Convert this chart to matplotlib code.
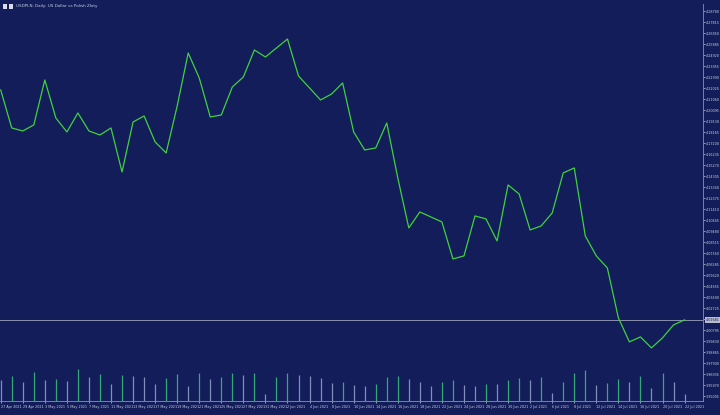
import numpy as np
import pandas as pd
import matplotlib
matplotlib.use("Agg")
import matplotlib.pyplot as plt
import matplotlib.transforms as mtransforms
from matplotlib.patches import Rectangle

# USDPLN daily closes
closes = [4.21852, 4.18519, 4.18256, 4.18782, 4.22729, 4.19396, 4.18168, 4.19835,
          4.18256, 4.17905, 4.18519, 4.14660, 4.19045, 4.19571, 4.17291, 4.16327,
          4.20448, 4.25097, 4.22904, 4.19484, 4.19659, 4.22115, 4.22992, 4.25360,
          4.24746, 4.25535, 4.26324, 4.23079, 4.22027, 4.20975, 4.21501, 4.22466,
          4.18168, 4.16590, 4.16765, 4.18958, 4.14134, 4.09749, 4.11152, 4.10714,
          4.10275, 4.07030, 4.07293, 4.10801, 4.10538, 4.08609, 4.13520, 4.12731,
          4.09574, 4.09924, 4.11065, 4.14573, 4.15011, 4.09047, 4.07293, 4.06241,
          4.01856, 3.99751, 4.00190, 3.99225, 4.00102, 4.01242, 4.01681]

# tick volumes
volumes = [63000, 75000, 57000, 87000, 63000, 66000, 60000, 96000, 72000, 81000,
           51000, 78000, 75000, 72000, 51000, 69000, 81000, 45000, 84000, 66000,
           72000, 84000, 78000, 84000, 21000, 72000, 84000, 78000, 75000, 69000,
           54000, 57000, 48000, 45000, 51000, 72000, 75000, 66000, 57000, 45000,
           57000, 63000, 48000, 45000, 51000, 51000, 63000, 69000, 63000, 72000,
           24000, 57000, 84000, 93000, 48000, 54000, 66000, 57000, 75000, 39000,
           84000, 57000, 21000]

dates = pd.bdate_range("2021-04-27", periods=len(closes))
date_labels = [f"{d.day} {d.strftime('%b %Y')}" for d in dates]

title = "USDPLN, Daily: US Dollar vs Polish Zloty"
price_top = 4.28780
price_step = 0.00965

bg = "#121d5a"
fg = "#c9cde0"

W, H = 720, 415
fig = plt.figure(figsize=(7.2, 4.15), dpi=100, facecolor=bg)
ax = fig.add_axes([0, 1 - 401 / H, 703 / W, 397 / H], facecolor=bg)

x = np.arange(len(closes))
ax.plot(x, closes, color="#3fd23c", lw=0.9, zorder=3)

# current price line
last = closes[-1]
ax.axhline(last, color="#8a90ad", lw=0.7, zorder=2)

ax.set_xlim(-0.7 / 11.03, (703 - 0.7) / 11.03)
ax.set_ylim(price_top - 390 * price_step / 11, price_top + 7 * price_step / 11)

# volumes at the bottom of the main window
vax = ax.twinx()
vcol = ["#35a878" if i > 0 and volumes[i] > volumes[i - 1] else "#8090ba"
        for i in range(len(volumes))]
vax.vlines(x, 0, volumes, colors=vcol, lw=0.9)
vax.set_ylim(0, 3000 * 397)
vax.set_yticks([])
for s in vax.spines.values():
    s.set_visible(False)
ax.set_zorder(vax.get_zorder() + 1)
ax.patch.set_visible(False)
fig.patch.set_facecolor(bg)

# axes styling
for side in ["top", "left"]:
    ax.spines[side].set_visible(False)
ax.spines["right"].set_color("#8a90ad")
ax.spines["bottom"].set_color("#8a90ad")
ax.spines["right"].set_linewidth(0.6)
ax.spines["bottom"].set_linewidth(0.6)

yt = price_top - price_step * np.arange(36)
ax.yaxis.tick_right()
ax.set_yticks(yt)
ax.set_yticklabels([f"{v:.5f}" for v in yt])
ax.tick_params(axis="y", colors=fg, labelsize=2.4, length=1.5, width=0.5, pad=0.8)

ax.set_xticks(x[::2])
ax.set_xticklabels(date_labels[::2], ha="left")
ax.tick_params(axis="x", colors=fg, labelsize=2.4, length=1.5, width=0.5, pad=1.5)

# price tag for the last close
tr = mtransforms.blended_transform_factory(ax.transAxes, ax.transData)
ax.text(1.004, last, f"{last:.5f}", transform=tr, fontsize=2.4, color="#111c58",
        va="center", ha="left",
        bbox=dict(boxstyle="square,pad=0.2", fc="#b8bccf", ec="none"))

# title with small window icons
fig.add_artist(Rectangle((3 / W, 1 - 9 / H), 4 / W, 5 / H, transform=fig.transFigure,
                         fc="#d8dbe8", ec="none"))
fig.add_artist(Rectangle((9 / W, 1 - 9 / H), 4 / W, 5 / H, transform=fig.transFigure,
                         fc="#d8dbe8", ec="none"))
fig.text(16 / W, 1 - 6.5 / H, title, fontsize=3.0, color=fg, va="center", ha="left")

fig.savefig("out.png", dpi=100, facecolor=bg)
